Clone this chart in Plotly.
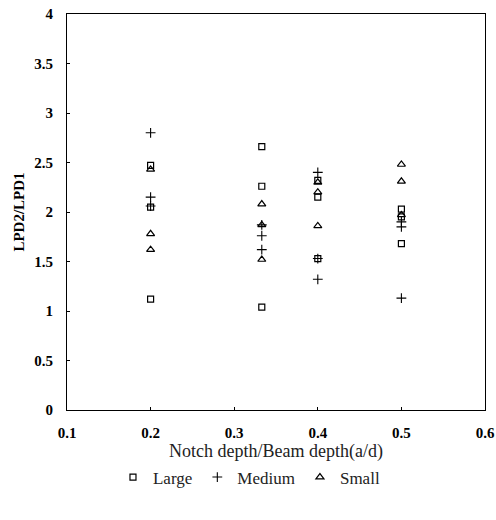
import plotly.graph_objects as go

large_x = [0.2, 0.2, 0.2, 0.333, 0.333, 0.333, 0.4, 0.4, 0.4, 0.5, 0.5, 0.5]
large_y = [2.47, 2.05, 1.12, 2.66, 2.26, 1.04, 2.32, 2.15, 1.53, 2.03, 1.95, 1.68]
medium_x = [0.2, 0.2, 0.2, 0.333, 0.333, 0.333, 0.4, 0.4, 0.4, 0.5, 0.5, 0.5]
medium_y = [2.80, 2.15, 2.06, 1.87, 1.76, 1.62, 2.40, 1.53, 1.32, 1.90, 1.85, 1.13]
small_x = [0.2, 0.2, 0.2, 0.333, 0.333, 0.333, 0.4, 0.4, 0.4, 0.5, 0.5, 0.5]
small_y = [2.43, 1.78, 1.62, 2.08, 1.87, 1.52, 2.30, 2.20, 1.86, 2.48, 2.31, 1.97]

x_ticks = [0.1, 0.2, 0.3, 0.4, 0.5, 0.6]
y_ticks = [0, 0.5, 1, 1.5, 2, 2.5, 3, 3.5, 4]

serif = "Liberation Serif, Times New Roman, serif"

fig = go.Figure()
fig.add_trace(go.Scatter(x=large_x, y=large_y, mode="markers", name="Large",
                         marker=dict(symbol="square-open", size=6, color="black", line=dict(width=1.2))))
fig.add_trace(go.Scatter(x=medium_x, y=medium_y, mode="markers", name="Medium",
                         marker=dict(symbol="cross-thin-open", size=7, color="black", line=dict(width=1.1, color="black"))))
fig.add_trace(go.Scatter(x=small_x, y=small_y, mode="markers", name="Small",
                         marker=dict(symbol="triangle-up-open", size=7, color="black", line=dict(width=1.2))))

fig.update_layout(
    width=496, height=520,
    margin=dict(l=67, r=11, t=14, b=110, autoexpand=False),
    paper_bgcolor="white", plot_bgcolor="white",
    font=dict(family=serif, color="black", size=13),
    showlegend=True,
    legend=dict(orientation="h", x=0.11, xanchor="left", y=-0.125, yanchor="top",
                font=dict(family=serif, size=17, color="#222"), itemwidth=30,
                bgcolor="rgba(0,0,0,0)"),
    xaxis=dict(range=[0.1, 0.6], tickvals=x_ticks, ticktext=[f"{v:.1f}" for v in x_ticks],
               showgrid=False, zeroline=False, showline=True, mirror=True, linecolor="black", linewidth=1,
               ticks="inside", ticklen=3, tickcolor="black", automargin=False,
               tickfont=dict(family=serif, size=15, weight="bold"),
               ticklabelstandoff=9,
               title=dict(text="Notch depth/Beam depth(a/d)", font=dict(family=serif, size=18, color="#222"), standoff=0)),
    yaxis=dict(range=[0, 4], tickvals=y_ticks, ticktext=[str(v) for v in y_ticks],
               showgrid=False, zeroline=False, showline=True, mirror=True, linecolor="black", linewidth=1,
               ticks="inside", ticklen=3, tickcolor="black", automargin=False,
               tickfont=dict(family=serif, size=15, weight="bold"),
               ticklabelstandoff=10,
               title=dict(text="LPD2/LPD1", font=dict(family=serif, size=15, weight="bold"), standoff=6)),
)

fig.write_html("out.html")
